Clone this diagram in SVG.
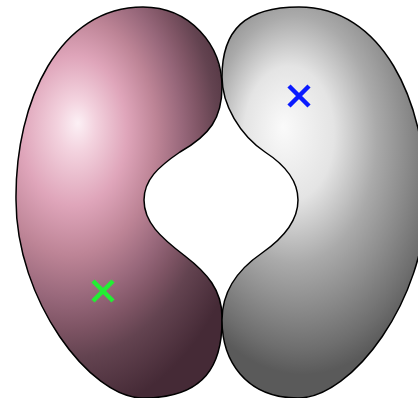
<svg xmlns="http://www.w3.org/2000/svg" width="418" height="398" viewBox="0 0 418 398">
<defs>
<radialGradient id="gPink" gradientUnits="userSpaceOnUse" cx="63" cy="143" r="190" fx="78" fy="123" gradientTransform="translate(78,123) scale(1,1.4) translate(-78,-123)">
<stop offset="0" stop-color="#fcf0f5"/>
<stop offset="0.1" stop-color="#f3d2de"/>
<stop offset="0.28" stop-color="#dfa5ba"/>
<stop offset="0.45" stop-color="#bd8496"/>
<stop offset="0.6" stop-color="#97677a"/>
<stop offset="0.7" stop-color="#7e5464"/>
<stop offset="0.8" stop-color="#634350"/>
<stop offset="1" stop-color="#452a36"/>
</radialGradient>
<radialGradient id="gGray" gradientUnits="userSpaceOnUse" cx="303" cy="142" r="150" fx="283" fy="127" gradientTransform="translate(283,127) scale(1,1.5) translate(-283,-127)">
<stop offset="0" stop-color="#fafafa"/>
<stop offset="0.3" stop-color="#e4e4e4"/>
<stop offset="0.55" stop-color="#aaaaaa"/>
<stop offset="0.75" stop-color="#888888"/>
<stop offset="0.9" stop-color="#6e6e6e"/>
<stop offset="1" stop-color="#5a5a5a"/>
</radialGradient>
<style>
.blob{stroke:#000;stroke-width:1.5}
.mark{fill:none;stroke-width:4.5;stroke-linecap:butt}
</style>
</defs>
<rect width="418" height="398" fill="#fff"/>
<g id="left-kidney">
<path class="blob" fill="url(#gPink)" d="M143,7 C190,7 222,45 222,87 C222,118 210,135 180,152 C158,167 144,180 144,200 C144,222 160,237 185,256 C207,273 222,290 222,317 C223,365 205,398 143,398 C90,398 16,300 16,200 C15,100 60,7 143,7 Z"/>
</g>
<g id="right-kidney">
<path class="blob" fill="url(#gGray)" d="M299,7 C245,7 222,30 222,77 C222,105 240,135 265,152 C285,165 298,180 298,200 C298,220 285,237 262,253 C240,268 222,290 222,320 C222,360 245,398 298,398 C352,398 426,300 426,200 C426,100 382,7 299,7 Z"/>
</g>
<g id="green-mark">
<path class="mark" stroke="#22ee33" d="M93,281 L113,301 M113,281 L93,301"/>
</g>
<g id="blue-mark">
<path class="mark" stroke="#0a1aff" d="M289,86 L309,106 M309,86 L289,106"/>
</g>
</svg>
